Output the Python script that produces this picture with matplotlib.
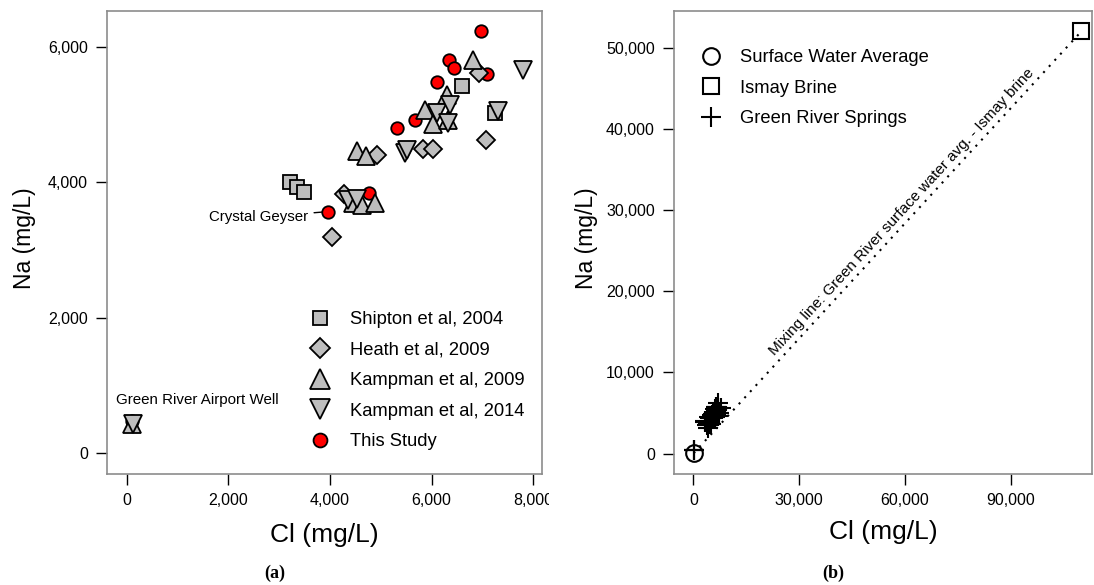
import numpy as np
import matplotlib
matplotlib.use("Agg")
import matplotlib.pyplot as plt
from matplotlib.lines import Line2D
from matplotlib.ticker import StrMethodFormatter
from matplotlib.transforms import Bbox, TransformedBbox

plt.rcParams['font.family'] = ['Liberation Sans', 'DejaVu Sans']

# panel (a) data, Cl and Na in mg/L
shipton_cl = [3220, 3350, 3480, 6600, 7250]
shipton_na = [4010, 3940, 3860, 5430, 5030]

heath_cl = [4040, 4270, 4920, 5830, 6030, 6930, 7060]
heath_na = [3200, 3830, 4400, 4500, 4490, 5620, 4630]

k09_cl = [100, 4460, 4530, 4620, 4700, 4890, 5870, 6030, 6300, 6330, 6820]
k09_na = [440, 3690, 4460, 3670, 4390, 3690, 5070, 4870, 5290, 4920, 5810]

k14_cl = [120, 4360, 4530, 5480, 5510, 6100, 6330, 6360, 7310, 7790]
k14_na = [440, 3740, 3760, 4430, 4480, 5020, 4880, 5140, 5050, 5660]

study_cl = [110, 3960, 4770, 5320, 5670, 6110, 6340, 6430, 6970, 7080]
study_na = [480, 3570, 3840, 4810, 4920, 5490, 5810, 5690, 6230, 5600]

# panel (b) end members
surface_cl = [100]
surface_na = [60]
ismay_cl = [110000]
ismay_na = [52000]

springs_cl = shipton_cl + heath_cl + k09_cl + k14_cl + study_cl
springs_na = shipton_na + heath_na + k09_na + k14_na + study_na

gray = '#bebebe'
frame = '#8c8c8c'

fig = plt.figure(figsize=(10.94, 5.85), dpi=100)
ax1 = fig.add_axes([0.0981, 0.1897, 0.3971, 0.7915])
ax2 = fig.add_axes([0.6164, 0.1897, 0.3821, 0.7915])

# ---- (a)
ax1.plot(study_cl, study_na, 'o', ms=9, mfc='red', mec='black', mew=1.3, ls='none')
ax1.plot(shipton_cl, shipton_na, 's', ms=9.4, mfc=gray, mec='black', mew=1.3, ls='none')
ax1.plot(heath_cl, heath_na, 'D', ms=9.5, mfc=gray, mec='black', mew=1.3, ls='none')
ax1.plot(k09_cl, k09_na, '^', ms=13, mfc=gray, mec='black', mew=1.3, ls='none')
ax1.plot(k14_cl, k14_na, 'v', ms=13, mfc=gray, mec='black', mew=1.3, ls='none')

ax1.annotate('Crystal Geyser', xy=(study_cl[1], study_na[1]), xytext=(-14, -4),
             textcoords='offset points', ha='right', va='center', fontsize=10.8,
             arrowprops=dict(arrowstyle='-', color='black', lw=1, shrinkA=2, shrinkB=4))
ax1.text(-210, 790, 'Green River Airport Well', ha='left', va='center', fontsize=10.9)

ax1.set_xlim(-380, 8165)
ax1.set_ylim(-303, 6531)
ax1.set_xticks([0, 2000, 4000, 6000, 8000])
ax1.set_yticks([0, 2000, 4000, 6000])

h1 = [Line2D([], [], marker='s', ms=10, mfc=gray, mec='black', mew=1.3, ls='none'),
      Line2D([], [], marker='D', ms=10, mfc=gray, mec='black', mew=1.3, ls='none'),
      Line2D([], [], marker='^', ms=14, mfc=gray, mec='black', mew=1.3, ls='none'),
      Line2D([], [], marker='v', ms=14, mfc=gray, mec='black', mew=1.3, ls='none'),
      Line2D([], [], marker='o', ms=10, mfc='red', mec='black', mew=1.3, ls='none')]
l1 = ['Shipton et al, 2004', 'Heath et al, 2009', 'Kampman et al, 2009',
      'Kampman et al, 2014', 'This Study']
ax1.legend(h1, l1, loc='upper left', bbox_to_anchor=(0.4586, 0.352), frameon=False,
           fontsize=13.2, borderpad=0, borderaxespad=0, handlelength=1.5,
           handletextpad=0.85, labelspacing=0.74)

# ---- (b)
ax2.plot(surface_cl + ismay_cl, surface_na + ismay_na, color='black', lw=1.5,
         dashes=(1, 3))
ax2.plot(springs_cl, springs_na, '+', ms=15, mec='black', mew=1.5, ls='none')
ax2.plot(surface_cl, surface_na, 'o', ms=12, mfc='none', mec='black', mew=1.5, ls='none')
ax2.plot(ismay_cl, ismay_na, 's', ms=11, mfc='none', mec='black', mew=1.5, ls='none',
         clip_on=False)

ax2.set_xlim(-5380, 113100)
ax2.set_ylim(-2500, 54500)
ax2.set_xticks([0, 30000, 60000, 90000])
ax2.set_yticks([0, 10000, 20000, 30000, 40000, 50000])

p0 = ax2.transData.transform((surface_cl[0], surface_na[0]))
p1 = ax2.transData.transform((ismay_cl[0], ismay_na[0]))
ang = np.degrees(np.arctan2(p1[1] - p0[1], p1[0] - p0[0]))
ax2.text(59000, 29800, 'Mixing line: Green River surface water avg. - Ismay brine',
         rotation=ang, rotation_mode='anchor', ha='center', va='center', fontsize=11)

h2 = [Line2D([], [], marker='o', ms=12, mfc='none', mec='black', mew=1.5, ls='none'),
      Line2D([], [], marker='s', ms=11, mfc='none', mec='black', mew=1.5, ls='none'),
      Line2D([], [], marker='+', ms=15, mec='black', mew=1.5, ls='none')]
l2 = ['Surface Water Average', 'Ismay Brine', 'Green River Springs']
ax2.legend(h2, l2, loc='upper left', bbox_to_anchor=(0.0547, 0.918), frameon=False,
           fontsize=13.2, borderpad=0, borderaxespad=0, handlelength=1.5,
           handletextpad=0.85, labelspacing=0.74)

for ax in [ax1, ax2]:
    for s in ax.spines.values():
        s.set_color(frame)
        s.set_linewidth(1.2)
    ax.tick_params(direction='out', length=8, width=1, color='black', pad=6,
                   labelsize=11.5)
    ax.xaxis.set_major_formatter(StrMethodFormatter('{x:,.0f}'))
    ax.yaxis.set_major_formatter(StrMethodFormatter('{x:,.0f}'))
    ax.set_xlabel('Cl (mg/L)', fontsize=19, va='center')
    ax.set_ylabel('Na (mg/L)', fontsize=16.5, va='center')

ax1.xaxis.set_label_coords(0.5, -0.1326)
ax1.yaxis.set_label_coords(-0.1895, 0.51)
ax2.xaxis.set_label_coords(0.5, -0.125)
ax2.yaxis.set_label_coords(-0.2092, 0.51)

# the left picture is cut at its right edge in the original layout
clip = TransformedBbox(Bbox.from_extents(0, 0, 549 / 1094, 1), fig.transFigure)
for lbl in ax1.get_xticklabels():
    lbl.set_clip_on(True)
    lbl.set_clip_box(clip)

fig.text(275 / 1094, 1 - 573 / 585, '(a)', family='Liberation Serif', weight='bold',
         fontsize=13, ha='center', va='center')
fig.text(833 / 1094, 1 - 573 / 585, '(b)', family='Liberation Serif', weight='bold',
         fontsize=13, ha='center', va='center')

fig.savefig('out.png', dpi=100)
